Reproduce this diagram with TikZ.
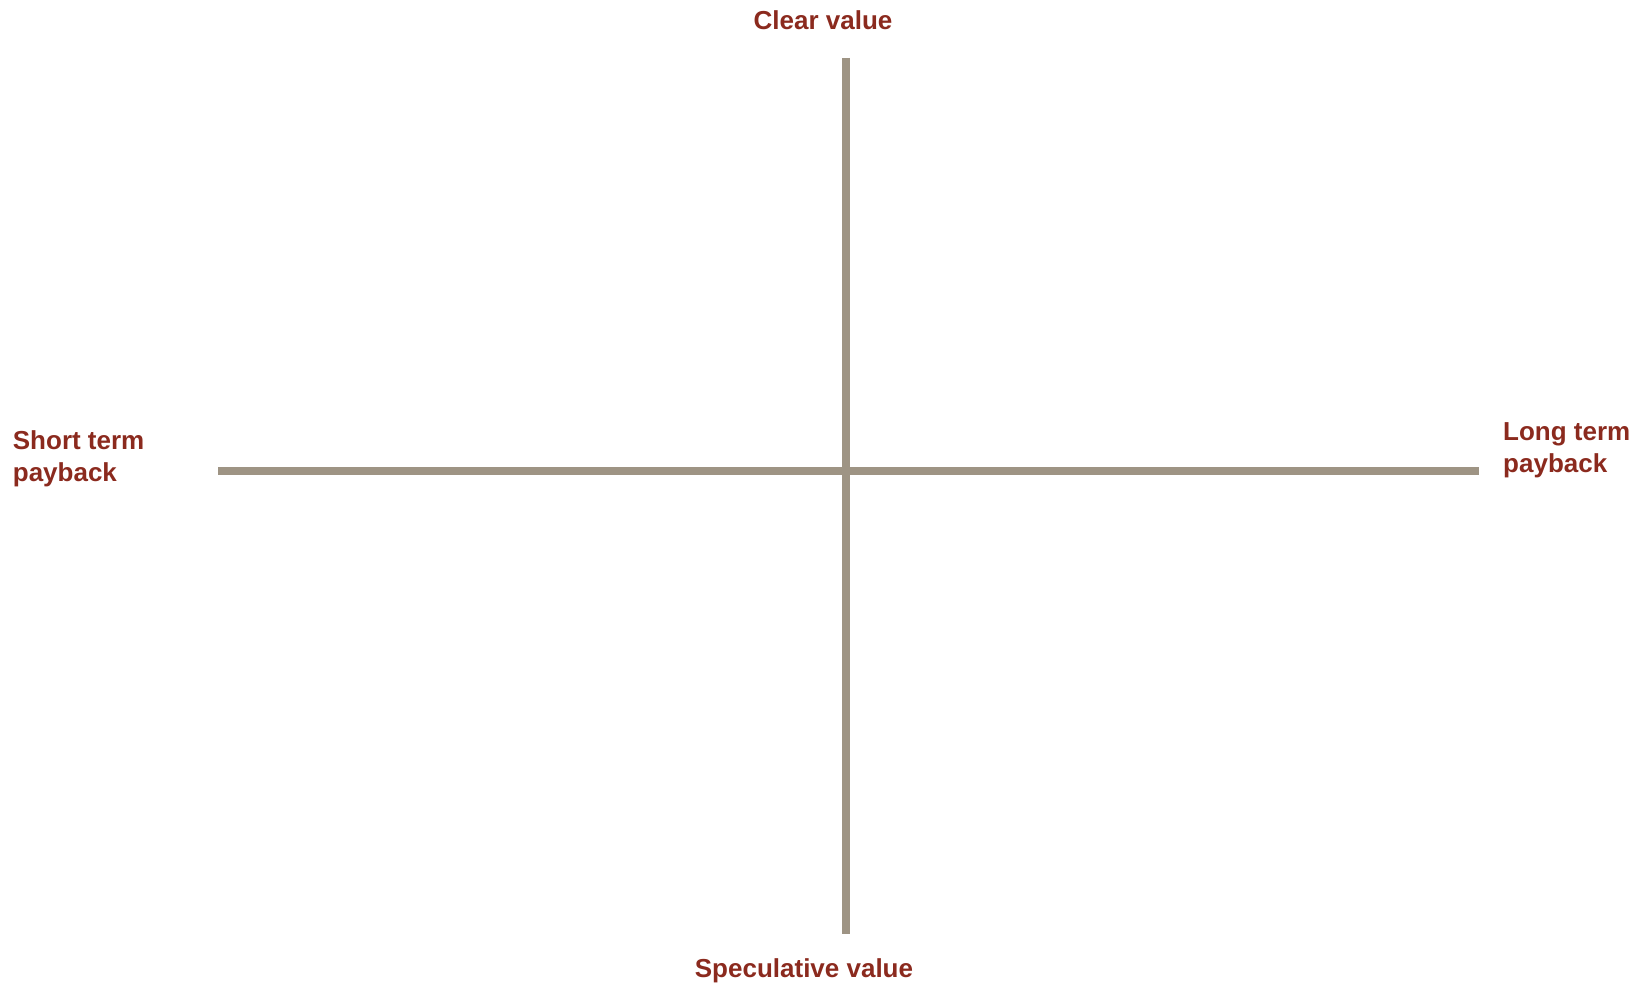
\documentclass[tikz,border=0pt]{standalone}
\usepackage{fontspec}
\setmainfont{Liberation Sans}
\usepackage{xcolor}
\usepackage{tikz}
\usetikzlibrary{positioning}
\definecolor{labred}{HTML}{8B2A1E}
\definecolor{axisgrey}{HTML}{9E9484}
\tikzset{
  axis/.style={draw=axisgrey,line width=7.5pt},
}
\begin{document}
\begin{tikzpicture}[x=1pt,y=-1pt,
  lbl/.style={text=labred,font=\bfseries\fontsize{26}{32.5}\selectfont,inner sep=0pt,align=left},
]
  \useasboundingbox (0,0) rectangle (1642,987);

  % axes
  \coordinate (top) at (846,58);
  \coordinate (bot) at (846,934);
  \coordinate (lft) at (218,471);
  \coordinate (rgt) at (1479,471);
  \draw[axis] (top) -- (bot);
  \draw[axis] (lft) -- (rgt);

  % labels
  \node[lbl,anchor=base] (clear) at (823,30) {Clear value};
  \node[lbl,anchor=base] (spec) at (804,977) {Speculative value};
  \node[lbl,anchor=north west] (short) at (12.7,430) {Short term\\payback};
  \node[lbl,anchor=north west] (long) at (1503,422) {Long term\\payback};
\end{tikzpicture}
\end{document}
